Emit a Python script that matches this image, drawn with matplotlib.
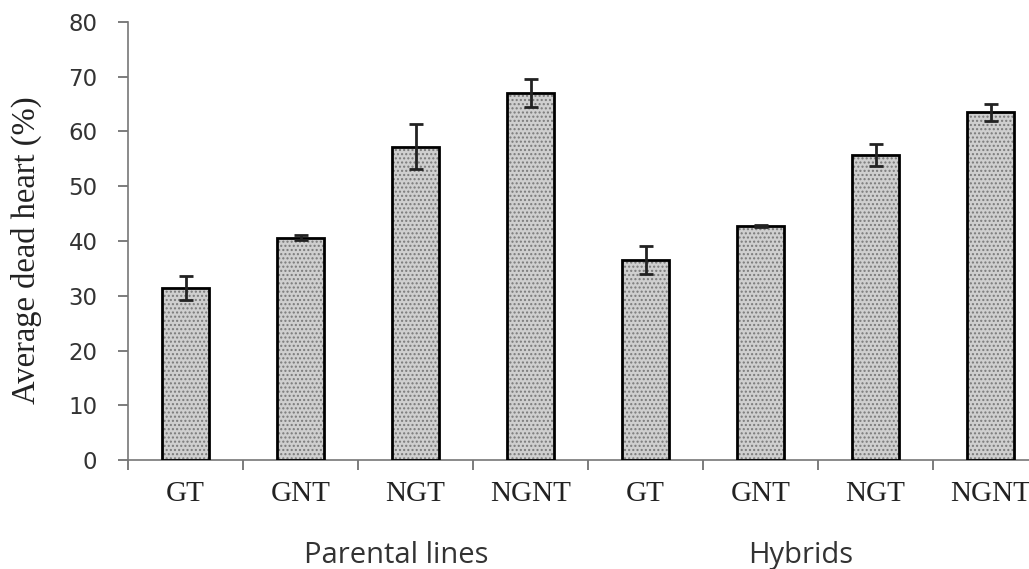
import matplotlib.pyplot as plt
import numpy as np

# data
labels = ["GT", "GNT", "NGT", "NGNT", "GT", "GNT", "NGT", "NGNT"]
means = [31.4, 40.6, 57.2, 67.0, 36.5, 42.7, 55.7, 63.5]
errors = [2.2, 0.5, 4.1, 2.6, 2.5, 0.2, 2.0, 1.5]
groups = ["Parental lines", "Hybrids"]

fig = plt.figure(figsize=(10.29, 5.69), dpi=100)
ax = fig.add_axes([128 / 1029, 109 / 569, 920 / 1029, 438 / 569])

x = np.arange(len(means))
# dotted fill
ax.bar(x, means, width=0.41, color="#cfcfcf", edgecolor="#7a7a7a",
       hatch="....", linewidth=0, zorder=2)
# black outline
ax.bar(x, means, width=0.41, fill=False, edgecolor="black", linewidth=2, zorder=3)
ax.errorbar(x, means, yerr=errors, fmt="none", ecolor="#222222", elinewidth=2,
            capsize=5, capthick=2, zorder=4)

ax.set_xlim(-0.5, len(means) - 0.5)
ax.set_ylim(0, 80)
ax.set_yticks(range(0, 81, 10))
ax.set_yticklabels([str(v) for v in range(0, 81, 10)], fontsize=16.5,
                   family="DejaVu Sans", color="#333333")

ax.set_xticks(np.arange(-0.5, len(means), 1))
ax.set_xticklabels([])
ax.set_xticks(x, minor=True)
ax.set_xticklabels(labels, minor=True, fontsize=21, family="Liberation Serif",
                   color="#222222")
ax.tick_params(axis="x", which="minor", length=0, pad=15)
ax.tick_params(axis="x", which="major", length=7, width=1.2, color="#666666",
               direction="out")
ax.tick_params(axis="y", length=7, width=1.2, color="#666666", pad=15)

for s in ["top", "right"]:
    ax.spines[s].set_visible(False)
ax.spines["left"].set_color("#777777")
ax.spines["bottom"].set_color("#777777")
ax.spines["left"].set_linewidth(1.2)
ax.spines["bottom"].set_linewidth(1.2)

ax.set_ylabel("Average dead heart (%)", fontsize=23.5, family="Liberation Serif",
              color="#222222")
ax.yaxis.set_label_coords(-86 / 920, 0.48)

fig.text(396 / 1029, 1 - 563 / 569, groups[0], ha="center", va="baseline",
         fontsize=21, family="Open Sans", color="#333333")
fig.text(801 / 1029, 1 - 563 / 569, groups[1], ha="center", va="baseline",
         fontsize=21, family="Open Sans", color="#333333")

fig.savefig("out.png", dpi=100)
